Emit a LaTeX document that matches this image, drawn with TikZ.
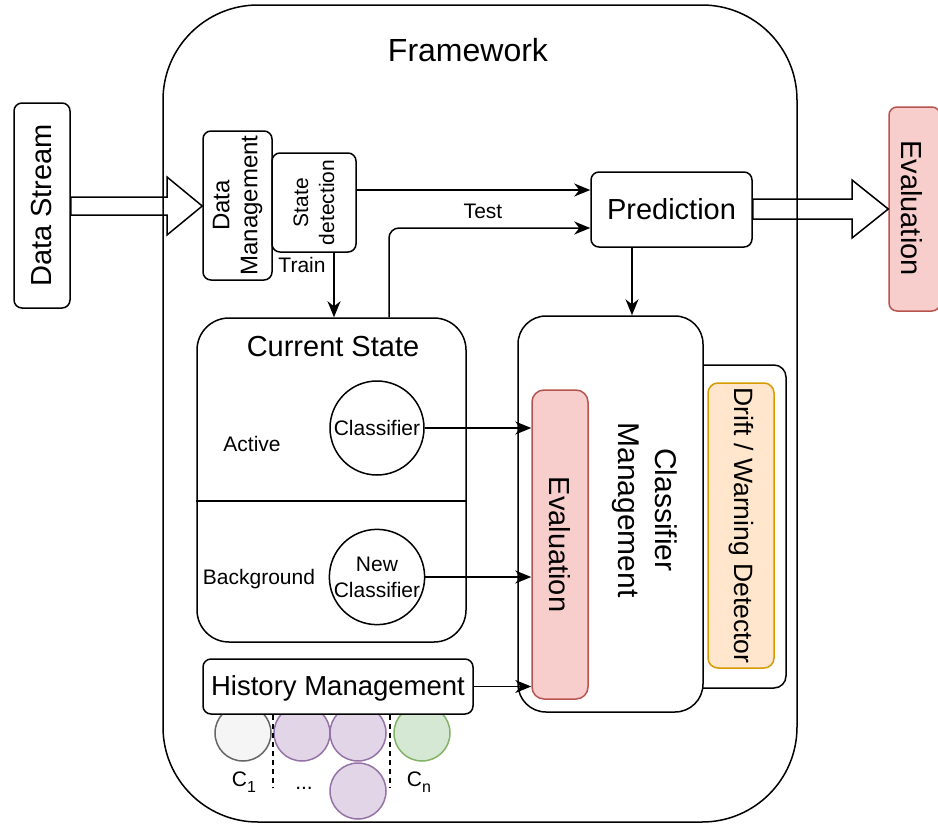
\documentclass[tikz,border=0pt]{standalone}
\usepackage{fontspec}
\setmainfont{Liberation Sans}
\usetikzlibrary{arrows.meta}
\newcommand\fsz[2]{\fontsize{#1}{#2}\selectfont}
\newcommand\lowidx[1]{\raisebox{-6pt}{\fsz{16}{16}#1}}

\definecolor{redfill}{HTML}{F8CECC}
\definecolor{redline}{HTML}{B85450}
\definecolor{orfill}{HTML}{FFE6CC}
\definecolor{orline}{HTML}{D79B00}
\definecolor{grfill}{HTML}{F5F5F5}
\definecolor{grline}{HTML}{666666}
\definecolor{pufill}{HTML}{E1D5E7}
\definecolor{puline}{HTML}{9673A6}
\definecolor{gnfill}{HTML}{D5E8D4}
\definecolor{gnline}{HTML}{82B366}

\tikzset{
  box/.style={draw, line width=1.5pt, rounded corners=#1, fill=white, inner sep=0pt},
  box/.default=8pt,
  ball/.style={circle, draw, line width=1.5pt, fill=white, inner sep=0pt, minimum size=94pt, align=center},
  hist/.style={circle, draw=#1line, fill=#1fill, line width=1.5pt, inner sep=0pt, minimum size=56pt},
  arr/.style={line width=1.5pt, -{Stealth[length=16pt,width=13pt,inset=5pt]}},
  blk/.style={line width=1.5pt, line join=miter},
  sep/.style={line width=1.5pt, dash pattern=on 5pt off 4pt},
  big/.style={font=\fsz{29}{34}},
  small/.style={font=\fsz{21}{26}},
}

\begin{document}
\begin{tikzpicture}[x=1pt, y=-1pt]
\clip (0,0) rectangle (938,823);
\fill[white] (0,0) rectangle (938,823);

% external blocks
\node[box] (ds) at (42,205.5) [minimum width=56pt, minimum height=205pt] {};
\node[big, rotate=90] at (ds) {Data Stream};

\node[box, draw=redline, fill=redfill] (evo) at (914.5,209) [minimum width=51pt, minimum height=204pt] {};
\node[big, rotate=-90] at (912,208) {Evaluation};

% data management and state detection
\node[box] (dm) at (237.5,205.5) [minimum width=69pt, minimum height=149pt] {};
\node[rotate=90, align=center, font=\fsz{24}{28}] at (dm) {Data\\Management};
\node[box] (sd) at (314,202.5) [minimum width=84pt, minimum height=99pt] {};
\node[rotate=90, align=center, small] at (sd) {State\\detection};

% hollow block arrows into and out of the framework
\draw[blk] (ds.east |- 0,197) -- (167,197) -- (167,177) -- (dm.west |- 0,206)
  -- (167,235) -- (167,215) -- (ds.east |- 0,215) -- cycle;

\node[box] (pred) at (671.5,209.5) [minimum width=161pt, minimum height=75pt] {};
\node[big] at (pred) {Prediction};

\draw[blk] (pred.east |- 0,199) -- (852,199) -- (852,180) -- (evo.west |- 0,209)
  -- (852,238) -- (852,219) -- (pred.east |- 0,219) -- cycle;

% framework container
\draw[line width=1.5pt, rounded corners=95pt] (163,5) rectangle (797,822);
\node[font=\fsz{32}{38}] (fwtitle) at (468,50) {Framework};

% current state
\node[box=32pt] (cs) at (331.5,480) [minimum width=269pt, minimum height=324pt] {};
\draw[line width=1.5pt] (cs.west |- 0,501) -- (cs.east |- 0,501);
\node[big] (cstitle) at (333,347) {Current State};
\node[small] (active) at (252,444) {Active};
\node[small] (bg) at (259,579) {Background};
\node[ball, small] (cl) at (377,428) {Classifier};
\node[ball, small] (ncl) at (377,577) {New\\Classifier};

% classifier management with detector
\node[box=12pt, fill=white] (dw) at (738,526.5) [minimum width=96pt, minimum height=323pt] {};
\node[box=10pt, draw=orline, fill=orfill] (dwi) at (741,525.5) [minimum width=66pt, minimum height=285pt] {};
\node[rotate=-90, font=\fsz{26.5}{30}] at (dwi) {Drift / Warning Detector};

\node[box=28pt] (cm) at (610.5,514) [minimum width=185pt, minimum height=396pt] {};
\node[rotate=-90, align=center, font=\fsz{30}{37}] at (645,510) {Classifier\\Management};
\node[box=12pt, draw=redline, fill=redfill] (ev) at (560,544.5) [minimum width=56pt, minimum height=309pt] {};
\node[big, rotate=-90] at (ev) {Evaluation};

% history of classifiers
\node[hist=gr] (c1) at (243,733) {};
\node[hist=pu] (p1) at (302,733) {};
\node[hist=pu] (p2) at (358,733) {};
\node[hist=pu] (p3) at (358,791) {};
\node[hist=gn] (cn) at (422,733) {};
\node[box] (hm) at (338,686.5) [minimum width=270pt, minimum height=55pt] {};
\node[font=\fsz{27.5}{32}] at (338,688) {History Management};
\draw[sep] (hm.south -| 273,0) -- (273,787);
\draw[sep] (hm.south -| 390,0) -- (390,787);
\node[small, anchor=base] (c1lab) at (244,786) {C\lowidx{1}};
\node[small, anchor=base] (dots) at (304,789) {...};
\node[small, anchor=base] (cnlab) at (419,786) {C\lowidx{n}};

% connectors
\coordinate (trainx) at (334,0);
\coordinate (testx) at (389,0);
\coordinate (predx) at (632,0);
\draw[arr] (sd.south -| trainx) -- (cs.north -| trainx);
\node[small] (train) at (302,265) {Train};
\draw[arr] (sd.east |- 0,190) -- (pred.west |- 0,190);
\draw[arr, rounded corners=10pt] (cs.north -| testx) |- (pred.west |- 0,228);
\node[small] (test) at (483,211) {Test};
\draw[arr] (pred.south -| predx) -- (cm.north -| predx);
\draw[arr] (cl.east) -- (ev.west |- cl.east);
\draw[arr] (ncl.east) -- (ev.west |- ncl.east);
\draw[arr] (hm.east) -- (ev.west |- hm.east);
\end{tikzpicture}
\end{document}
